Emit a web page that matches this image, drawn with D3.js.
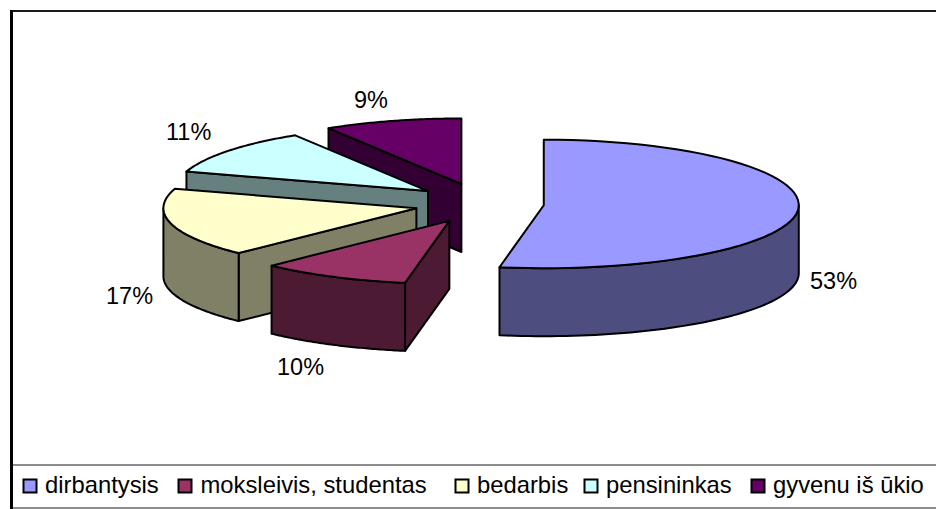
<!DOCTYPE html>
<html><head><meta charset="utf-8">
<script src="https://cdn.jsdelivr.net/npm/d3@7"></script>
<style>html,body{margin:0;padding:0;background:#fff}svg{display:block}text{font-family:"Liberation Sans",Arial,sans-serif;fill:#000}</style>
</head><body><svg id="c" width="936" height="509"></svg>
<script>
const categories = ["dirbantysis","moksleivis, studentas","bedarbis","pensininkas","gyvenu iš ūkio"];
const values = [52.8,9.6,17.4,11.4,8.8];
const labels = ["53%","10%","17%","11%","9%"];
const topColors = ["#9999FF","#993366","#FFFFCC","#CCFFFF","#660066"];
const wallColors = ["#4D4D80","#4D1A33","#808066","#668080","#330033"];

const layout = {cx:479,cy:203.5,rxLeft:253,rxRight:255,ryBack:65.5,ryFront:63,depth:68,explodeX:0.255,explodeY:0.31};
const labelPos = [[810,289],[277,375],[106,304],[166,140],[354,108]];
const legendTextX = [45,200.5,477,606,773];
const legendSwatchX = [23.5,178.5,455.5,584.5,751.5];

const svg = d3.select("#c");
const pie = d3.pie().sort(null).value(d=>d);
const arcs = pie(values);
const TAU = 2*Math.PI;
const xs = d3.scaleLinear().domain([-1,0,1]).range([-layout.rxLeft,0,layout.rxRight]);
const ys = d3.scaleLinear().domain([-1,0,1]).range([-layout.ryFront,0,layout.ryBack]);
const lineGen = d3.line();

function project(center,a,r=1,dy=0){return [center[0]+xs(r*Math.sin(a)),center[1]-ys(r*Math.cos(a))+dy];}
function sliceCenter(d){
  const m=(d.startAngle+d.endAngle)/2;
  return [layout.cx+xs(layout.explodeX*Math.sin(m)),layout.cy-ys(layout.explodeY*Math.cos(m))];
}
function sample(a0,a1){return d3.range(0,61).map(i=>a0+(a1-a0)*i/60);}

const shapes = arcs.map((d,i)=>({d,i,c:sliceCenter(d)}));
const order = [4,3,2,1,0];
const g = svg.append("g");
function poly(pts,fill){
  g.append("path").attr("d",lineGen(pts)+"Z").attr("fill",fill)
   .attr("stroke","#000").attr("stroke-width",2).attr("stroke-linejoin","round");
}
order.forEach(k=>{
  const {d,i,c}=shapes[k];
  const dp=layout.depth;
  if(Math.sin(d.startAngle)<-1e-6){
    const e=project(c,d.startAngle);
    poly([c,e,[e[0],e[1]+dp],[c[0],c[1]+dp]],wallColors[i]);
  }
  if(Math.sin(d.endAngle)>1e-6){
    const e=project(c,d.endAngle);
    poly([c,e,[e[0],e[1]+dp],[c[0],c[1]+dp]],wallColors[i]);
  }
  const a0=Math.max(d.startAngle,TAU/4), a1=Math.min(d.endAngle,3*TAU/4);
  if(a1>a0){
    const topEdge=sample(a0,a1).map(a=>project(c,a));
    const botEdge=sample(a1,a0).map(a=>project(c,a,1,dp));
    poly(topEdge.concat(botEdge),wallColors[i]);
  }
  poly([c].concat(sample(d.startAngle,d.endAngle).map(a=>project(c,a))),topColors[i]);
});

svg.append("g").selectAll("text").data(labels).join("text")
  .attr("x",(d,i)=>labelPos[i][0]).attr("y",(d,i)=>labelPos[i][1])
  .attr("font-size",23.5).text(d=>d);

svg.append("line").attr("x1",10).attr("x2",936).attr("y1",11).attr("y2",11).attr("stroke","#1a1a1a").attr("stroke-width",2);
svg.append("line").attr("x1",11.5).attr("x2",11.5).attr("y1",10).attr("y2",509).attr("stroke","#000").attr("stroke-width",3);
svg.append("line").attr("x1",13).attr("x2",936).attr("y1",465).attr("y2",465).attr("stroke","#666").attr("stroke-width",1.3);
svg.append("line").attr("x1",13).attr("x2",936).attr("y1",508).attr("y2",508).attr("stroke","#666").attr("stroke-width",1.3);

const lg=svg.append("g");
lg.selectAll("rect").data(categories).join("rect")
  .attr("x",(d,i)=>legendSwatchX[i]).attr("y",479.5).attr("width",13).attr("height",13)
  .attr("fill",(d,i)=>topColors[i]).attr("stroke","#000").attr("stroke-width",2);
lg.selectAll("text").data(categories).join("text")
  .attr("x",(d,i)=>legendTextX[i]).attr("y",493).attr("font-size",23.8).text(d=>d);
</script></body></html>
